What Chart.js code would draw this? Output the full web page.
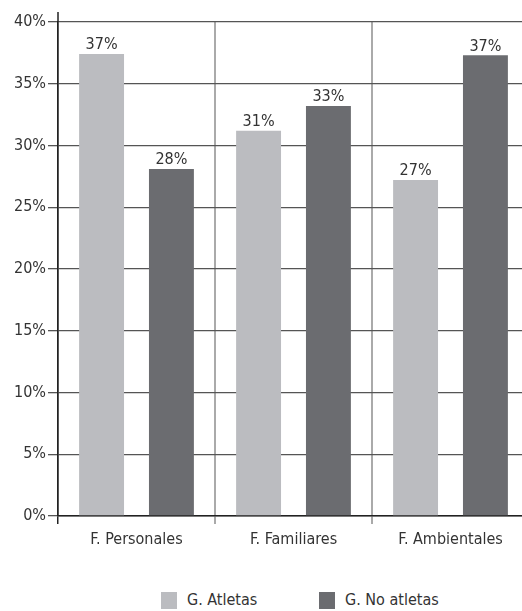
<!DOCTYPE html>
<html lang="es">
<head>
  <meta charset="UTF-8" />
  <title>Factores</title>
  <script src="https://cdn.jsdelivr.net/npm/chart.js"></script>
  <style>
    *{margin:0;padding:0;box-sizing:border-box}
    html,body{width:522px;height:611px;overflow:hidden;background:#fff}
    body{position:relative;font-family:'Liberation Sans Narrow','DejaVu Sans Condensed',sans-serif;color:#333}
    .wrap{position:absolute;left:0;top:0;width:530px;height:562px}
    .legend{position:absolute;top:591px;left:0;width:522px;font-size:16px;line-height:18px}
    .item{position:absolute;top:0;display:flex;align-items:center}
    .box{width:16px;height:17px;margin-right:10px}
  </style>
</head>
<body>
  <div class="wrap"><canvas id="chart"></canvas></div>
  <div class="legend">
    <div class="item" style="left:161px"><span class="box" style="background:#bbbcc0"></span>G. Atletas</div>
    <div class="item" style="left:319px"><span class="box" style="background:#6b6c70"></span>G. No atletas</div>
  </div>

  <script>
    const categories = ['F. Personales', 'F. Familiares', 'F. Ambientales'];
    const atletas = [37.4, 31.2, 27.2];
    const noAtletas = [28.1, 33.2, 37.3];
    const yTicks = [0, 5, 10, 15, 20, 25, 30, 35, 40];

    const FONT = "'Liberation Sans Narrow','DejaVu Sans Condensed',sans-serif";

    // etiquetas de valor encima de cada barra
    const valueLabels = {
      id: 'valueLabels',
      afterDatasetsDraw(chart) {
        const ctx = chart.ctx;
        ctx.save();
        ctx.font = '16px ' + FONT;
        ctx.fillStyle = '#333';
        ctx.textAlign = 'center';
        ctx.textBaseline = 'bottom';
        chart.data.datasets.forEach((ds, i) => {
          chart.getDatasetMeta(i).data.forEach((bar, j) => {
            ctx.fillText(Math.round(ds.data[j]) + '%', bar.x, bar.y - 1);
          });
        });
        ctx.restore();
      }
    };

    // el eje vertical sobresale un poco por arriba
    const axisTop = {
      id: 'axisTop',
      afterDraw(chart) {
        const ctx = chart.ctx, a = chart.chartArea;
        ctx.save();
        ctx.strokeStyle = '#222';
        ctx.lineWidth = 1.5;
        ctx.beginPath();
        ctx.moveTo(a.left, a.top);
        ctx.lineTo(a.left, a.top - 10);
        ctx.stroke();
        ctx.restore();
      }
    };

    new Chart(document.getElementById('chart'), {
      type: 'bar',
      data: {
        labels: categories,
        datasets: [
          { label: 'G. Atletas', data: atletas, backgroundColor: '#bbbcc0' },
          { label: 'G. No atletas', data: noAtletas, backgroundColor: '#6b6c70' }
        ]
      },
      options: {
        responsive: true,
        maintainAspectRatio: false,
        animation: false,
        categoryPercentage: 0.89,
        barPercentage: 0.643,
        layout: { padding: { top: 22, right: 1, left: 0, bottom: 0 } },
        plugins: {
          legend: { display: false },
          tooltip: { enabled: false }
        },
        scales: {
          x: {
            offset: true,
            grid: {
              offset: true,
              color: c => c.index === 0 ? '#222' : '#aaaaaa',
              lineWidth: c => c.index === 0 ? 1.5 : 2,
              tickLength: 8
            },
            border: { color: '#222', width: 1.5 },
            ticks: { color: '#333', font: { family: FONT, size: 16 }, padding: 6 },
            afterFit: s => { s.height = 46; }
          },
          y: {
            min: 0,
            max: 40,
            afterBuildTicks: s => { s.ticks = yTicks.map(v => ({ value: v })); },
            ticks: { color: '#333', font: { family: FONT, size: 16 }, padding: 2, callback: v => v + '%' },
            grid: { color: '#555', lineWidth: 1.3, tickLength: 10 },
            border: { color: '#222', width: 1.5 },
            afterFit: s => { s.width = 58; }
          }
        }
      },
      plugins: [valueLabels, axisTop]
    });
  </script>
</body>
</html>
